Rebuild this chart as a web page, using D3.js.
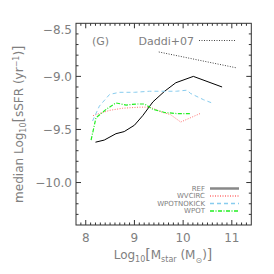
<!DOCTYPE html>
<html>
<head>
<meta charset="utf-8">
<script src="https://cdn.jsdelivr.net/npm/d3@7/dist/d3.min.js"></script>
<style>
  body { margin: 0; background: #fff; }
  svg text { font-family: "DejaVu Sans", sans-serif; fill: #808080; }
</style>
</head>
<body>
<svg id="chart" width="274" height="274"></svg>
<script>
// series
var refX = [8.2, 8.38, 8.62, 8.79, 9.0, 9.17, 9.38, 9.62, 9.85, 10.21, 10.8]
var refY = [-9.62, -9.60, -9.54, -9.52, -9.46, -9.37, -9.24, -9.14, -9.06, -9.00, -9.10]

var vcircX = [8.15, 8.21, 8.49, 8.76, 9.1, 9.32, 9.58, 9.74, 9.95, 10.35]
var vcircY = [-9.37, -9.36, -9.32, -9.30, -9.29, -9.29, -9.34, -9.36, -9.43, -9.35]

var nokickX = [8.14, 8.28, 8.49, 8.69, 9.0, 9.31, 9.86, 10.08, 10.15, 10.42, 10.59]
var nokickY = [-9.42, -9.28, -9.17, -9.15, -9.15, -9.14, -9.14, -9.13, -9.16, -9.22, -9.25]

var wpotX = [8.11, 8.21, 8.42, 8.62, 8.83, 9.04, 9.21, 9.38, 9.62, 9.86, 10.15]
var wpotY = [-9.60, -9.39, -9.31, -9.25, -9.27, -9.26, -9.26, -9.31, -9.34, -9.35, -9.35]

var daddiX = [9.5, 11.1]
var daddiY = [-8.77, -8.92]

var xTicks = [8, 9, 10, 11]
var yTicks = [-8.5, -9.0, -9.5, -10.0]

var legendNames = ['REF', 'WVCIRC', 'WPOTNOKICK', 'WPOT']

var svg = d3.select('#chart')
// note: "top" is taken by window.top, so use other names
var plotL = 76, plotR = 251.3, plotT = 23.3, plotB = 225

var x = d3.scaleLinear().domain([7.8, 11.4]).range([plotL, plotR])
var y = d3.scaleLinear().domain([-10.4, -8.5]).range([plotB, plotT])

var styles = [
	{ color: '#000000', dash: null, width: 1 },
	{ color: '#ff7070', dash: '1,1.5', width: 1 },
	{ color: '#88ccee', dash: '4,3', width: 1 },
	{ color: '#22ee22', dash: '4,1.5,1,1.5', width: 1.2 }
]

var line = d3.line().x(d => x(d[0])).y(d => y(d[1]))

function draw(xs, ys, st) {
	svg.append('path')
		.datum(d3.zip(xs, ys))
		.attr('d', line)
		.attr('fill', 'none')
		.attr('stroke', st.color)
		.attr('stroke-width', st.width)
		.attr('stroke-dasharray', st.dash)
}

draw(refX, refY, styles[0])
draw(vcircX, vcircY, styles[1])
draw(nokickX, nokickY, styles[2])
draw(wpotX, wpotY, styles[3])
draw(daddiX, daddiY, { color: '#444', dash: '1,1.5', width: 1 })

// frame and ticks
var axisColor = '#333'
svg.append('rect')
	.attr('x', plotL).attr('y', plotT)
	.attr('width', plotR - plotL).attr('height', plotB - plotT)
	.attr('fill', 'none').attr('stroke', axisColor).attr('stroke-width', 1)

var minorX = d3.range(79, 114).map(v => v / 10)
minorX.forEach(v => {
	var major = Math.abs(v - Math.round(v)) < 1e-6
	var len = major ? 5 : 2.5
	svg.append('line').attr('x1', x(v)).attr('x2', x(v)).attr('y1', plotB).attr('y2', plotB - len)
		.attr('stroke', axisColor)
	svg.append('line').attr('x1', x(v)).attr('x2', x(v)).attr('y1', plotT).attr('y2', plotT + len)
		.attr('stroke', axisColor)
})
var minorY = d3.range(-103, -85).map(v => v / 10)
minorY.forEach(v => {
	var major = Math.abs(v * 2 - Math.round(v * 2)) < 1e-6
	var len = major ? 5 : 2.5
	svg.append('line').attr('y1', y(v)).attr('y2', y(v)).attr('x1', plotL).attr('x2', plotL + len)
		.attr('stroke', axisColor)
	svg.append('line').attr('y1', y(v)).attr('y2', y(v)).attr('x1', plotR).attr('x2', plotR - len)
		.attr('stroke', axisColor)
})

// tick labels
svg.selectAll('.xt').data(xTicks).enter().append('text')
	.attr('x', d => x(d)).attr('y', 242)
	.attr('text-anchor', 'middle').attr('font-size', 12)
	.text(d => d)
svg.selectAll('.yt').data(yTicks).enter().append('text')
	.attr('x', 72).attr('y', d => y(d) + (d == -8.5 ? 6 : 0))
	.attr('dy', '0.35em')
	.attr('text-anchor', 'end').attr('font-size', 12)
	.text(d => '\u2212' + Math.abs(d).toFixed(1))

// axis titles
var xl = svg.append('text').attr('x', 163).attr('y', 259).attr('text-anchor', 'middle').attr('font-size', 12)
xl.append('tspan').text('Log')
xl.append('tspan').attr('font-size', 8).attr('dy', 3).text('10')
xl.append('tspan').attr('dy', -3).attr('font-size', 14).text('[')
xl.append('tspan').text('M')
xl.append('tspan').attr('font-size', 8).attr('dy', 3).text('star')
xl.append('tspan').attr('dy', -3).text(' (M')
xl.append('tspan').attr('font-size', 8).attr('dy', 4).text('\u2299')
xl.append('tspan').attr('dy', -4).text(')')
xl.append('tspan').attr('font-size', 14).text(']')

var yl = svg.append('text')
	.attr('transform', 'translate(23,' + ((plotT + plotB) / 2) + ') rotate(-90)')
	.attr('text-anchor', 'middle').attr('font-size', 12)
yl.append('tspan').text('median Log')
yl.append('tspan').attr('font-size', 8).attr('dy', 3).text('10')
yl.append('tspan').attr('dy', -3).attr('font-size', 14).text('[')
yl.append('tspan').text('sSFR (yr')
yl.append('tspan').attr('font-size', 8).attr('dy', -4).text('\u22121')
yl.append('tspan').attr('dy', 4).text(')')
yl.append('tspan').attr('font-size', 14).text(']')

// panel tag
svg.append('text').attr('x', 92).attr('y', 45).attr('font-size', 11).text('(G)')

// Daddi legend
svg.append('text').attr('x', 194).attr('y', 44.5).attr('text-anchor', 'end').attr('font-size', 11).text('Daddi+07')
svg.append('line').attr('x1', 199).attr('x2', 236).attr('y1', 40.5).attr('y2', 40.5)
	.attr('stroke', '#444').attr('stroke-dasharray', '1,1.5')

// series legend
var legY = [188.5, 196, 203.5, 211]
legendNames.forEach((name, i) => {
	svg.append('text').attr('x', 205).attr('y', legY[i]).attr('dy', '0.35em')
		.attr('text-anchor', 'end').attr('font-size', 7).text(name)
	svg.append('line').attr('x1', 210).attr('x2', 239).attr('y1', legY[i]).attr('y2', legY[i])
		.attr('stroke', i == 0 ? '#888' : styles[i].color)
		.attr('stroke-width', i == 0 ? 2.5 : 1.5)
		.attr('stroke-dasharray', styles[i].dash)
})
</script>
</body>
</html>
